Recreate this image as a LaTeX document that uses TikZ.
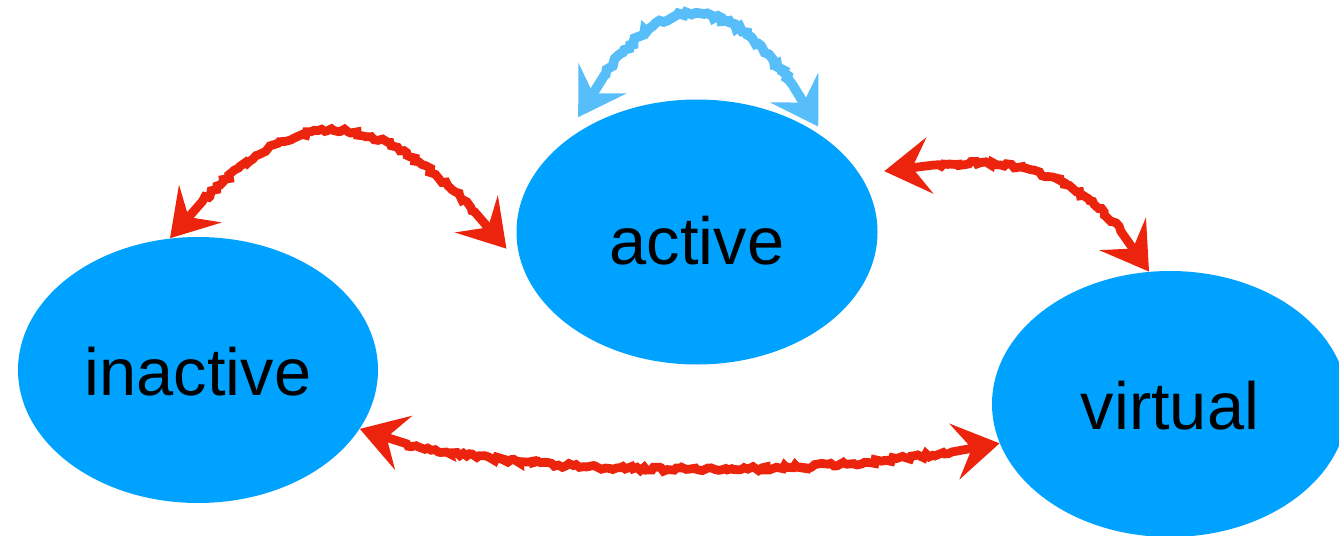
\documentclass[tikz,border=0pt]{standalone}
\usepackage{fontspec}
\setmainfont{Liberation Sans}
\usetikzlibrary{shapes.geometric,arrows.meta,decorations.pathmorphing,calc}

\definecolor{stateblue}{RGB}{0,162,255}
\definecolor{crayonred}{RGB}{236,36,14}
\definecolor{crayonblue}{RGB}{88,190,250}

\begin{document}
\begin{tikzpicture}[
  state/.style={ellipse, fill=stateblue, inner sep=0pt, text height=1.0cm, text depth=0pt,
    font=\fontsize{38pt}{42pt}\selectfont},
  crayon/.style={line width=5pt, line cap=round, <->,
    >={Stealth[length=26pt,width=32pt,inset=10pt]},
    decorate, decoration={random steps, segment length=2pt, amplitude=1.2pt,
      pre length=28pt, post length=28pt}}
]
\clip (0,0) rectangle (26.78,10.7);
% the three states
\node[state, minimum width=7.2cm, minimum height=5.32cm] (inactive) at (3.96,3.30) {inactive};
\node[state, minimum width=7.22cm, minimum height=5.3cm, text height=1.3cm] (active) at (13.94,6.06) {active};
\node[state, minimum width=7.12cm, minimum height=5.32cm] (virtual) at (23.40,2.62) {virtual};
% transitions
\draw[crayon, crayonblue, line width=5.5pt] ($(active.136)+(136:0.26)$)
  to[out=61, in=119, out distance=3.3cm, in distance=3.3cm] ($(active.41)+(41:0.12)$);
\draw[crayon, crayonred] (inactive.102)
  to[out=51, in=129, out distance=3.87cm, in distance=3.87cm] ($(active.185)+(185:0.22)$);
\draw[crayon, crayonred] ($(active.18)+(18:0.46)$)
  to[out=8, in=121, out distance=2.16cm, in distance=2.86cm] (virtual.99);
\draw[crayon, crayonred] (inactive.-20)
  to[out=-23, in=192, out distance=2.58cm, in distance=3.63cm] (virtual.193);
\end{tikzpicture}
\end{document}
